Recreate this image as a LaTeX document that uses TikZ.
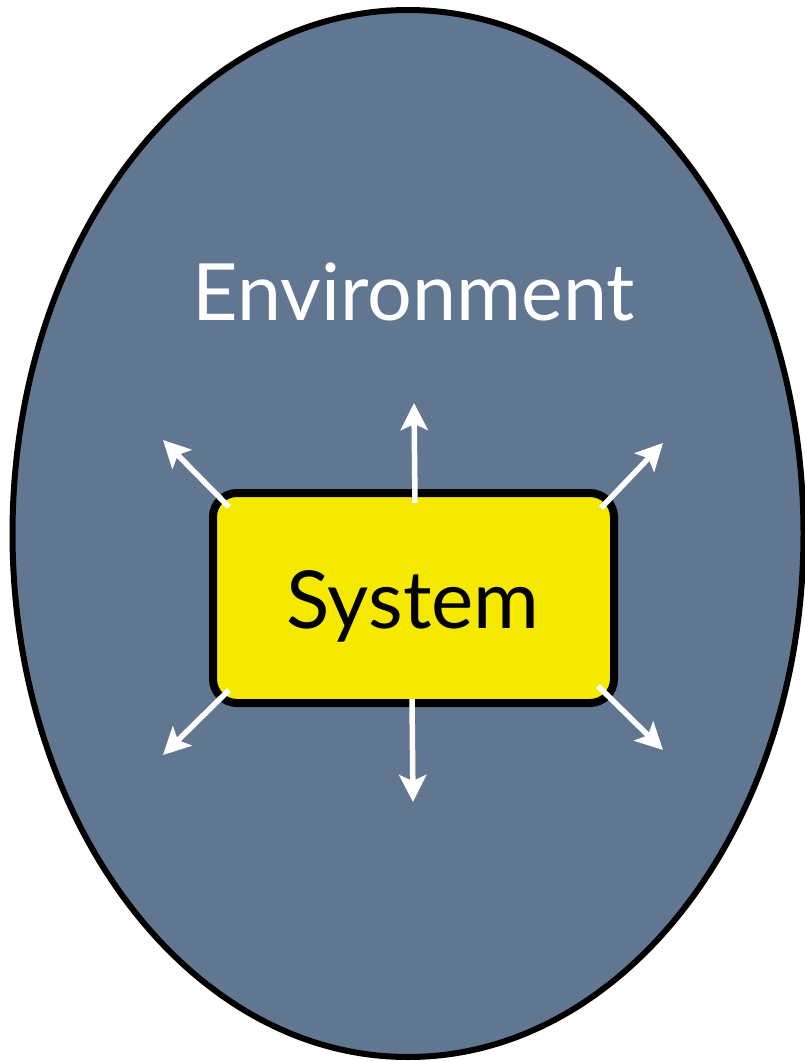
\documentclass[tikz,border=0pt]{standalone}
\usepackage{fontspec}
\setmainfont{Lato}
\usetikzlibrary{arrows.meta}
\definecolor{envblue}{RGB}{96,118,145}
\definecolor{sysyellow}{RGB}{245,233,0}
\tikzset{
  envshape/.style={draw=black, line width=6pt, fill=envblue},
  sysbox/.style={draw=black, line width=8pt, fill=sysyellow, rounded corners=24pt,
    minimum width=401pt, minimum height=210pt, inner sep=0pt},
  flow/.style={draw=white, line width=5.5pt, -{Stealth[length=27pt,width=27pt,inset=6pt]}},
  envlabel/.style={text=white, font=\fontsize{79}{90}\selectfont, anchor=base, inner sep=0pt},
  syslabel/.style={text=black, font=\fontsize{80}{90}\selectfont, anchor=base, inner sep=0pt}
}
\begin{document}
\begin{tikzpicture}[x=1pt,y=-1pt]
\useasboundingbox (0,0) rectangle (805,1061);
\draw[envshape] (408,533.5) ellipse [x radius=395.5, y radius=523.5];
\node[envlabel] (env) at (414,320) {Environment};
\node[sysbox] (sys) at (413.5,598) {};
\node[syslabel] (syst) at (413,628) {System};
% arrow starts
\coordinate (sU) at (415,503);
\coordinate (sD) at (412,699);
\coordinate (sUL) at (229,507);
\coordinate (sUR) at (601,508);
\coordinate (sLL) at (229,690);
\coordinate (sLR) at (598,686);
% arrow tips
\coordinate (tU) at (414,403);
\coordinate (tD) at (413,802);
\coordinate (tUL) at (163,440);
\coordinate (tUR) at (663,443);
\coordinate (tLL) at (163,755);
\coordinate (tLR) at (663,750);
\draw[flow] (sU) -- (tU);
\draw[flow] (sD) -- (tD);
\draw[flow] (sUL) -- (tUL);
\draw[flow] (sUR) -- (tUR);
\draw[flow] (sLL) -- (tLL);
\draw[flow] (sLR) -- (tLR);
\end{tikzpicture}
\end{document}
